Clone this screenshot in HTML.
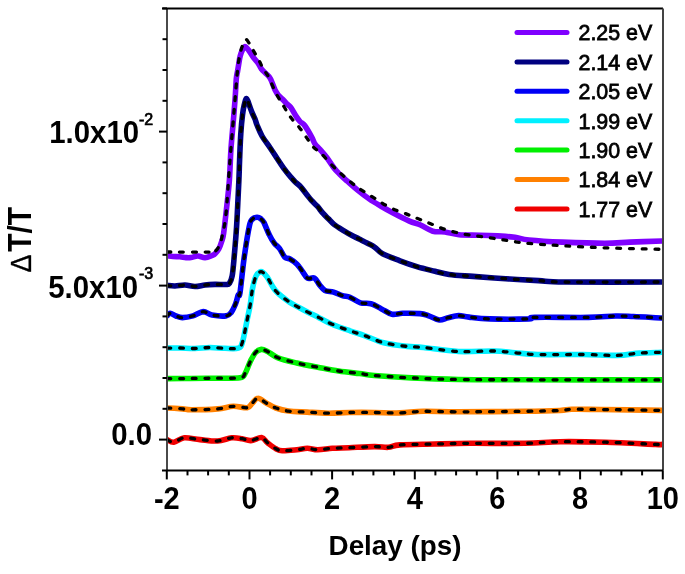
<!DOCTYPE html>
<html><head><meta charset="utf-8"><style>
html,body{margin:0;padding:0;background:#fff;}
body{width:685px;height:574px;overflow:hidden;font-family:"Liberation Sans",sans-serif;}
svg{display:block;filter:blur(0.45px);}
</style></head><body>
<svg width="685" height="574" viewBox="0 0 685 574">
<defs><clipPath id="c"><rect x="167" y="8.4" width="496" height="462.0"/></clipPath></defs>
<g clip-path="url(#c)" fill="none" stroke-linejoin="round" stroke-linecap="round">
<path d="M167.0,439.6 C168.1,440.0 170.9,442.5 173.8,442.2 C176.7,441.9 179.9,438.2 184.3,437.8 C188.7,437.4 194.4,439.1 200.0,439.6 C205.6,440.1 212.3,441.3 217.6,441.0 C222.9,440.7 227.5,438.2 231.6,437.8 C235.7,437.4 238.9,438.2 242.1,438.7 C245.3,439.2 247.6,440.8 250.8,440.6 C254.1,440.4 258.8,437.2 261.6,437.6 C264.4,438.0 265.1,441.0 267.5,442.8 C269.9,444.6 273.4,447.4 275.9,448.7 C278.3,450.0 278.7,450.6 282.2,450.8 C285.7,451.0 292.6,450.2 296.8,449.8 C301.0,449.4 303.8,448.3 307.3,448.3 C310.8,448.3 313.5,449.8 317.7,449.8 C321.9,449.8 327.2,448.7 332.4,448.3 C337.6,447.9 342.1,448.0 349.1,447.7 C356.1,447.4 367.6,446.7 374.2,446.6 C380.8,446.5 384.1,447.6 388.4,447.3 C392.7,447.0 392.2,445.4 400.0,444.9 C407.8,444.3 423.3,444.3 435.0,444.0 C446.7,443.7 455.1,443.4 470.1,443.3 C485.1,443.2 510.0,443.6 525.0,443.3 C540.0,443.0 546.9,441.9 560.3,441.7 C573.7,441.5 589.7,441.8 605.6,442.2 C621.5,442.6 646.1,444.0 655.5,444.4 C664.9,444.8 660.9,444.4 662.0,444.4" stroke="#f00000" stroke-width="5.6"/>
<path d="M167.0,408.0 C169.6,408.1 178.4,408.6 182.5,408.9 C186.6,409.2 185.5,409.8 191.3,409.8 C197.2,409.8 210.6,409.5 217.6,408.9 C224.6,408.3 228.4,406.5 233.3,406.3 C238.2,406.1 244.2,408.2 247.3,407.7 C250.4,407.2 250.2,405.1 252.0,403.5 C253.8,401.9 255.5,398.2 257.9,398.2 C260.3,398.1 263.6,401.6 266.6,403.2 C269.6,404.8 272.2,406.7 275.9,408.0 C279.5,409.3 283.3,410.4 288.5,411.1 C293.7,411.8 300.7,411.8 307.3,412.1 C313.9,412.5 321.2,413.1 328.2,413.2 C335.2,413.3 341.4,412.6 349.1,412.5 C356.8,412.4 365.7,412.4 374.2,412.5 C382.7,412.6 391.8,413.1 400.0,412.9 C408.2,412.7 413.7,411.5 423.4,411.3 C433.1,411.1 441.5,411.8 458.4,411.8 C475.3,411.8 508.1,411.5 525.0,411.3 C541.9,411.1 552.2,410.8 560.0,410.5 C567.8,410.2 565.0,409.5 571.7,409.3 C578.4,409.1 585.0,409.3 600.0,409.5 C615.0,409.7 651.7,410.2 662.0,410.4" stroke="#ff8000" stroke-width="5.6"/>
<path d="M167.0,378.6 C170.8,378.6 182.0,378.6 190.0,378.5 C198.0,378.4 206.7,378.3 215.0,378.2 C223.3,378.1 234.9,378.6 239.9,377.8 C244.9,377.0 243.3,376.2 245.1,373.4 C246.8,370.6 248.7,364.7 250.4,361.2 C252.2,357.7 253.8,354.5 255.6,352.5 C257.4,350.5 259.3,349.6 261.3,349.4 C263.3,349.2 264.7,350.1 267.5,351.5 C270.3,352.9 273.1,355.9 278.0,357.8 C282.9,359.7 290.2,361.4 296.8,363.0 C303.4,364.6 310.7,365.9 317.7,367.2 C324.7,368.5 331.6,369.9 338.6,371.0 C345.6,372.1 353.6,372.8 359.5,373.5 C365.4,374.2 365.5,374.8 374.2,375.5 C382.9,376.2 397.7,377.2 411.7,377.9 C425.7,378.6 439.5,379.2 458.4,379.5 C477.3,379.8 491.1,379.7 525.0,379.8 C558.9,379.9 639.2,379.9 662.0,379.9" stroke="#00f000" stroke-width="5.6"/>
<path d="M167.0,348.1 C169.2,348.1 175.3,347.9 180.0,348.0 C184.7,348.1 190.0,348.6 195.0,348.5 C200.0,348.4 205.0,347.5 210.0,347.5 C215.0,347.5 220.3,348.2 225.0,348.3 C229.7,348.4 235.3,349.2 238.2,348.1 C241.1,347.1 241.1,346.5 242.5,342.0 C243.9,337.5 245.6,327.5 246.9,321.1 C248.2,314.7 249.5,309.1 250.4,303.7 C251.3,298.3 251.6,293.2 252.5,288.6 C253.4,284.0 254.8,278.8 256.0,276.0 C257.2,273.2 258.7,272.5 259.9,271.9 C261.1,271.3 261.8,271.6 263.0,272.5 C264.2,273.4 265.1,274.1 267.2,277.1 C269.3,280.1 272.0,286.7 275.5,290.7 C279.0,294.7 283.6,298.1 288.1,301.2 C292.6,304.3 297.5,306.7 302.7,309.5 C307.9,312.3 314.5,315.4 319.4,317.9 C324.3,320.3 326.9,322.0 332.0,324.2 C337.1,326.4 344.5,328.9 350.0,330.8 C355.5,332.7 359.4,333.8 365.0,335.8 C370.6,337.8 376.7,341.0 383.7,342.8 C390.7,344.6 400.4,345.6 407.0,346.4 C413.6,347.2 414.8,346.6 423.4,347.5 C432.0,348.4 446.7,350.9 458.4,351.5 C470.1,352.1 484.1,350.8 493.5,351.0 C502.9,351.2 507.6,352.1 515.0,352.7 C522.4,353.3 526.4,354.2 537.7,354.5 C549.0,354.8 569.8,354.4 583.0,354.5 C596.2,354.6 607.6,355.6 617.0,355.4 C626.4,355.2 632.1,353.6 639.6,353.1 C647.1,352.6 658.3,352.4 662.0,352.2" stroke="#00f0ff" stroke-width="5.6"/>
<path d="M167.0,315.9 C167.5,315.5 168.7,313.3 170.2,313.3 C171.7,313.3 174.0,315.3 176.0,316.0 C178.0,316.7 179.6,317.6 182.4,317.6 C185.2,317.6 189.4,316.9 192.9,315.9 C196.4,314.9 200.1,311.8 203.3,311.6 C206.5,311.5 208.2,314.3 212.0,315.0 C215.8,315.7 222.8,316.3 226.0,315.9 C229.2,315.5 229.6,314.4 231.2,312.4 C232.8,310.4 234.4,306.6 235.6,303.7 C236.8,300.8 237.5,296.8 238.2,295.0 C238.9,293.2 239.0,299.1 240.0,292.8 C241.0,286.5 242.6,268.4 244.2,257.3 C245.8,246.2 248.0,232.3 249.4,225.9 C250.8,219.5 251.2,220.4 252.5,219.0 C253.8,217.6 255.7,217.3 257.0,217.2 C258.3,217.1 259.4,217.6 260.5,218.5 C261.6,219.4 262.4,219.7 263.9,222.4 C265.3,225.1 267.4,231.1 269.2,234.6 C270.9,238.1 272.7,241.0 274.4,243.3 C276.1,245.6 277.9,246.3 279.6,248.6 C281.3,250.9 283.1,255.6 284.8,257.3 C286.5,259.0 288.0,257.9 290.0,259.0 C292.0,260.1 294.9,262.2 297.0,264.2 C299.1,266.2 300.6,268.9 302.3,271.2 C304.1,273.5 305.5,277.0 307.5,278.2 C309.5,279.4 312.5,277.0 314.5,278.2 C316.5,279.4 318.0,283.1 319.7,285.1 C321.4,287.1 322.6,289.2 324.9,290.4 C327.2,291.6 330.7,291.2 333.6,292.1 C336.5,293.0 339.6,294.7 342.3,295.6 C345.0,296.5 347.0,296.1 350.0,297.3 C353.0,298.5 357.0,301.7 360.5,302.8 C364.0,303.9 367.5,302.7 371.0,303.7 C374.5,304.7 378.0,307.1 381.5,308.9 C385.0,310.6 388.5,313.5 392.0,314.2 C395.5,314.9 397.9,313.4 402.6,313.3 C407.3,313.2 415.6,313.2 420.0,313.6 C424.4,314.0 425.6,314.8 428.8,315.9 C432.0,317.0 436.1,319.7 439.3,320.0 C442.5,320.3 444.9,318.4 448.1,317.7 C451.3,317.0 455.1,315.7 458.6,315.6 C462.1,315.5 463.9,316.6 469.1,317.1 C474.3,317.7 479.9,318.6 489.9,318.9 C499.8,319.2 521.3,319.1 528.8,318.9 C536.3,318.6 524.8,317.6 534.8,317.4 C544.8,317.1 575.2,317.6 588.7,317.4 C602.2,317.2 608.1,316.1 615.6,316.0 C623.1,315.9 625.9,316.2 633.6,316.5 C641.3,316.8 657.3,317.8 662.0,318.0" stroke="#0000f5" stroke-width="5.6"/>
<path d="M167.0,285.4 C168.3,285.5 172.0,286.1 175.0,286.0 C178.0,285.9 181.7,284.9 185.0,285.0 C188.3,285.1 191.7,286.5 195.0,286.5 C198.3,286.5 201.7,285.4 205.0,285.0 C208.3,284.6 211.5,284.5 215.0,284.4 C218.5,284.3 223.6,284.7 226.0,284.5 C228.4,284.3 228.4,284.8 229.4,283.4 C230.4,281.9 231.4,280.3 232.2,275.8 C233.0,271.3 233.5,264.6 234.2,256.6 C234.9,248.6 235.9,237.5 236.5,227.9 C237.1,218.3 237.6,207.2 238.0,199.2 C238.4,191.2 238.6,186.5 238.9,180.0 C239.2,173.5 239.3,167.7 239.6,160.0 C239.9,152.3 240.3,141.1 240.8,133.6 C241.3,126.1 241.9,119.8 242.5,115.0 C243.1,110.2 243.5,107.7 244.2,105.0 C244.9,102.3 245.6,98.5 246.5,98.6 C247.4,98.7 248.5,103.1 249.4,105.5 C250.3,107.9 251.3,110.7 252.2,112.9 C253.1,115.2 254.2,117.0 255.0,119.0 C255.8,121.0 255.8,122.2 257.0,125.0 C258.2,127.8 259.9,132.2 262.0,136.0 C264.1,139.8 267.4,143.8 269.9,147.5 C272.4,151.2 274.5,154.5 276.8,158.0 C279.1,161.5 281.5,165.2 283.8,168.4 C286.1,171.6 288.9,174.9 290.8,177.1 C292.7,179.3 293.4,180.2 295.0,181.8 C296.6,183.4 298.8,184.7 300.6,186.7 C302.5,188.7 304.2,191.4 306.1,193.7 C308.0,196.0 309.8,198.6 311.7,200.7 C313.6,202.8 315.4,204.1 317.3,206.2 C319.2,208.3 321.0,211.1 322.9,213.2 C324.8,215.3 326.5,216.9 328.4,218.8 C330.2,220.7 331.7,222.6 334.0,224.4 C336.3,226.2 339.6,228.2 342.4,229.9 C345.2,231.6 347.9,233.3 350.7,234.8 C353.5,236.3 356.3,237.6 359.1,239.0 C361.9,240.4 364.9,241.8 367.5,243.2 C370.1,244.6 372.5,245.6 375.0,247.4 C377.5,249.2 378.4,251.6 382.6,253.8 C386.8,256.0 394.2,258.6 400.0,260.8 C405.8,263.0 411.8,265.1 417.6,266.9 C423.4,268.6 429.8,270.0 435.0,271.3 C440.2,272.6 442.7,273.6 449.0,274.5 C455.3,275.4 463.4,275.7 472.9,276.4 C482.3,277.1 494.8,278.0 505.7,278.7 C516.6,279.4 528.8,280.1 538.6,280.6 C548.5,281.2 544.2,281.8 564.8,282.0 C585.4,282.2 645.8,282.0 662.0,282.0" stroke="#000080" stroke-width="5.6"/>
<path d="M167.0,255.7 C168.0,255.8 170.8,256.3 173.0,256.5 C175.2,256.7 177.8,256.6 180.0,256.8 C182.2,257.0 184.2,257.5 186.0,257.6 C187.8,257.7 189.0,257.8 191.0,257.5 C193.0,257.2 195.7,255.9 198.0,256.0 C200.3,256.1 202.7,257.9 205.0,257.8 C207.3,257.7 210.3,256.2 212.0,255.5 C213.7,254.8 213.9,254.9 215.0,253.8 C216.1,252.7 217.7,251.0 218.8,249.0 C219.9,247.0 220.7,244.6 221.5,242.0 C222.3,239.4 222.8,239.2 223.6,233.6 C224.4,228.0 225.5,217.6 226.5,208.7 C227.5,199.8 228.7,189.8 229.4,180.0 C230.1,170.2 230.3,159.2 230.9,150.0 C231.5,140.8 232.3,133.3 233.0,125.0 C233.7,116.7 234.4,107.7 235.0,100.0 C235.6,92.3 235.9,83.6 236.3,78.8 C236.7,74.0 237.2,73.6 237.6,71.0 C238.0,68.4 238.5,65.6 238.9,63.1 C239.3,60.6 239.6,58.3 240.2,56.1 C240.8,53.9 241.6,51.6 242.4,50.0 C243.2,48.4 244.0,46.5 245.0,46.5 C246.0,46.5 247.1,48.1 248.5,50.0 C249.9,51.9 252.1,55.7 253.7,57.9 C255.3,60.1 256.8,61.2 258.1,63.1 C259.4,65.0 260.3,67.5 261.6,69.2 C262.9,71.0 264.6,72.0 266.0,73.6 C267.4,75.1 268.8,75.8 270.3,78.5 C271.8,81.2 273.8,87.2 275.1,90.0 C276.5,92.8 276.9,93.5 278.4,95.3 C279.8,97.0 282.4,99.0 283.8,100.5 C285.2,102.0 285.8,102.8 287.0,104.0 C288.2,105.2 289.3,105.4 290.8,107.4 C292.3,109.4 294.5,113.8 296.0,116.1 C297.5,118.4 298.6,119.9 300.0,121.5 C301.4,123.1 302.8,122.9 304.7,125.5 C306.6,128.1 310.0,134.0 311.7,137.1 C313.4,140.2 313.6,141.9 315.0,144.0 C316.4,146.1 318.2,147.4 320.2,149.7 C322.2,152.0 324.8,154.9 327.1,158.0 C329.4,161.1 331.9,165.2 334.0,168.0 C336.1,170.8 337.9,172.4 340.0,174.5 C342.1,176.6 343.7,178.0 346.7,180.7 C349.7,183.3 354.2,187.4 357.9,190.4 C361.6,193.4 365.3,196.2 369.0,198.8 C372.7,201.4 376.2,203.4 380.2,205.7 C384.1,208.0 387.8,210.1 392.7,212.7 C397.6,215.3 404.8,219.0 409.4,221.1 C414.0,223.2 416.6,223.3 420.5,225.0 C424.4,226.7 428.7,230.0 432.8,231.2 C436.9,232.4 440.6,231.4 445.0,232.0 C449.4,232.6 453.2,234.2 459.0,234.7 C464.8,235.2 473.6,235.0 480.0,235.2 C486.4,235.4 491.8,235.6 497.6,235.9 C503.4,236.2 509.8,236.6 515.0,237.3 C520.2,238.0 521.1,239.2 529.0,240.0 C536.9,240.8 549.7,241.6 562.3,242.1 C574.9,242.6 593.4,243.2 604.7,243.2 C616.0,243.2 620.5,242.5 630.0,242.1 C639.5,241.7 656.7,241.2 662.0,241.0" stroke="#7f00ff" stroke-width="5.6"/>
<path d="M167.0,439.6 C168.1,440.0 170.9,442.5 173.8,442.2 C176.7,441.9 179.9,438.2 184.3,437.8 C188.7,437.4 194.4,439.1 200.0,439.6 C205.6,440.1 212.3,441.3 217.6,441.0 C222.9,440.7 227.5,438.2 231.6,437.8 C235.7,437.4 238.9,438.2 242.1,438.7 C245.3,439.2 247.6,440.8 250.8,440.6 C254.1,440.4 258.8,437.2 261.6,437.6 C264.4,438.0 265.1,441.0 267.5,442.8 C269.9,444.6 273.4,447.4 275.9,448.7 C278.3,450.0 278.7,450.6 282.2,450.8 C285.7,451.0 292.6,450.2 296.8,449.8 C301.0,449.4 303.8,448.3 307.3,448.3 C310.8,448.3 313.5,449.8 317.7,449.8 C321.9,449.8 327.2,448.7 332.4,448.3 C337.6,447.9 342.1,448.0 349.1,447.7 C356.1,447.4 367.6,446.7 374.2,446.6 C380.8,446.5 384.1,447.6 388.4,447.3 C392.7,447.0 392.2,445.4 400.0,444.9 C407.8,444.3 423.3,444.3 435.0,444.0 C446.7,443.7 455.1,443.4 470.1,443.3 C485.1,443.2 510.0,443.6 525.0,443.3 C540.0,443.0 546.9,441.9 560.3,441.7 C573.7,441.5 589.7,441.8 605.6,442.2 C621.5,442.6 646.1,444.0 655.5,444.4 C664.9,444.8 660.9,444.4 662.0,444.4" stroke="#000" stroke-width="3.3" stroke-dasharray="3.8 8.9" stroke-linecap="round"/>
<path d="M167.0,408.0 C169.6,408.1 178.4,408.6 182.5,408.9 C186.6,409.2 185.5,409.8 191.3,409.8 C197.2,409.8 210.6,409.5 217.6,408.9 C224.6,408.3 228.4,406.5 233.3,406.3 C238.2,406.1 244.2,408.2 247.3,407.7 C250.4,407.2 250.2,405.1 252.0,403.5 C253.8,401.9 255.5,398.2 257.9,398.2 C260.3,398.1 263.6,401.6 266.6,403.2 C269.6,404.8 272.2,406.7 275.9,408.0 C279.5,409.3 283.3,410.4 288.5,411.1 C293.7,411.8 300.7,411.8 307.3,412.1 C313.9,412.5 321.2,413.1 328.2,413.2 C335.2,413.3 341.4,412.6 349.1,412.5 C356.8,412.4 365.7,412.4 374.2,412.5 C382.7,412.6 391.8,413.1 400.0,412.9 C408.2,412.7 413.7,411.5 423.4,411.3 C433.1,411.1 441.5,411.8 458.4,411.8 C475.3,411.8 508.1,411.5 525.0,411.3 C541.9,411.1 552.2,410.8 560.0,410.5 C567.8,410.2 565.0,409.5 571.7,409.3 C578.4,409.1 585.0,409.3 600.0,409.5 C615.0,409.7 651.7,410.2 662.0,410.4" stroke="#000" stroke-width="3.3" stroke-dasharray="3.8 8.9" stroke-linecap="round"/>
<path d="M167.0,378.6 C170.8,378.6 182.0,378.6 190.0,378.5 C198.0,378.4 206.7,378.3 215.0,378.2 C223.3,378.1 234.9,378.6 239.9,377.8 C244.9,377.0 243.3,376.2 245.1,373.4 C246.8,370.6 248.7,364.7 250.4,361.2 C252.2,357.7 253.8,354.5 255.6,352.5 C257.4,350.5 259.3,349.6 261.3,349.4 C263.3,349.2 264.7,350.1 267.5,351.5 C270.3,352.9 273.1,355.9 278.0,357.8 C282.9,359.7 290.2,361.4 296.8,363.0 C303.4,364.6 310.7,365.9 317.7,367.2 C324.7,368.5 331.6,369.9 338.6,371.0 C345.6,372.1 353.6,372.8 359.5,373.5 C365.4,374.2 365.5,374.8 374.2,375.5 C382.9,376.2 397.7,377.2 411.7,377.9 C425.7,378.6 439.5,379.2 458.4,379.5 C477.3,379.8 491.1,379.7 525.0,379.8 C558.9,379.9 639.2,379.9 662.0,379.9" stroke="#000" stroke-width="3.3" stroke-dasharray="3.8 8.9" stroke-linecap="round"/>
<path d="M167.0,348.1 C169.2,348.1 175.3,347.9 180.0,348.0 C184.7,348.1 190.0,348.6 195.0,348.5 C200.0,348.4 205.0,347.5 210.0,347.5 C215.0,347.5 220.3,348.2 225.0,348.3 C229.7,348.4 235.3,349.2 238.2,348.1 C241.1,347.1 241.1,346.5 242.5,342.0 C243.9,337.5 245.6,327.5 246.9,321.1 C248.2,314.7 249.5,309.1 250.4,303.7 C251.3,298.3 251.6,293.2 252.5,288.6 C253.4,284.0 254.8,278.8 256.0,276.0 C257.2,273.2 258.7,272.5 259.9,271.9 C261.1,271.3 261.8,271.6 263.0,272.5 C264.2,273.4 265.1,274.1 267.2,277.1 C269.3,280.1 272.0,286.7 275.5,290.7 C279.0,294.7 283.6,298.1 288.1,301.2 C292.6,304.3 297.5,306.7 302.7,309.5 C307.9,312.3 314.5,315.4 319.4,317.9 C324.3,320.3 326.9,322.0 332.0,324.2 C337.1,326.4 344.5,328.9 350.0,330.8 C355.5,332.7 359.4,333.8 365.0,335.8 C370.6,337.8 376.7,341.0 383.7,342.8 C390.7,344.6 400.4,345.6 407.0,346.4 C413.6,347.2 414.8,346.6 423.4,347.5 C432.0,348.4 446.7,350.9 458.4,351.5 C470.1,352.1 484.1,350.8 493.5,351.0 C502.9,351.2 507.6,352.1 515.0,352.7 C522.4,353.3 526.4,354.2 537.7,354.5 C549.0,354.8 569.8,354.4 583.0,354.5 C596.2,354.6 607.6,355.6 617.0,355.4 C626.4,355.2 632.1,353.6 639.6,353.1 C647.1,352.6 658.3,352.4 662.0,352.2" stroke="#000" stroke-width="3.3" stroke-dasharray="3.8 8.9" stroke-linecap="round"/>
<path d="M167.0,315.9 C167.5,315.5 168.7,313.3 170.2,313.3 C171.7,313.3 174.0,315.3 176.0,316.0 C178.0,316.7 179.6,317.6 182.4,317.6 C185.2,317.6 189.4,316.9 192.9,315.9 C196.4,314.9 200.1,311.8 203.3,311.6 C206.5,311.5 208.2,314.3 212.0,315.0 C215.8,315.7 222.8,316.3 226.0,315.9 C229.2,315.5 229.6,314.4 231.2,312.4 C232.8,310.4 234.4,306.6 235.6,303.7 C236.8,300.8 237.5,296.8 238.2,295.0 C238.9,293.2 239.0,299.1 240.0,292.8 C241.0,286.5 242.6,268.4 244.2,257.3 C245.8,246.2 248.0,232.3 249.4,225.9 C250.8,219.5 251.2,220.4 252.5,219.0 C253.8,217.6 255.7,217.3 257.0,217.2 C258.3,217.1 259.4,217.6 260.5,218.5 C261.6,219.4 262.4,219.7 263.9,222.4 C265.3,225.1 267.4,231.1 269.2,234.6 C270.9,238.1 272.7,241.0 274.4,243.3 C276.1,245.6 277.9,246.3 279.6,248.6 C281.3,250.9 283.1,255.6 284.8,257.3 C286.5,259.0 288.0,257.9 290.0,259.0 C292.0,260.1 294.9,262.2 297.0,264.2 C299.1,266.2 300.6,268.9 302.3,271.2 C304.1,273.5 305.5,277.0 307.5,278.2 C309.5,279.4 312.5,277.0 314.5,278.2 C316.5,279.4 318.0,283.1 319.7,285.1 C321.4,287.1 322.6,289.2 324.9,290.4 C327.2,291.6 330.7,291.2 333.6,292.1 C336.5,293.0 339.6,294.7 342.3,295.6 C345.0,296.5 347.0,296.1 350.0,297.3 C353.0,298.5 357.0,301.7 360.5,302.8 C364.0,303.9 367.5,302.7 371.0,303.7 C374.5,304.7 378.0,307.1 381.5,308.9 C385.0,310.6 388.5,313.5 392.0,314.2 C395.5,314.9 397.9,313.4 402.6,313.3 C407.3,313.2 415.6,313.2 420.0,313.6 C424.4,314.0 425.6,314.8 428.8,315.9 C432.0,317.0 436.1,319.7 439.3,320.0 C442.5,320.3 444.9,318.4 448.1,317.7 C451.3,317.0 455.1,315.7 458.6,315.6 C462.1,315.5 463.9,316.6 469.1,317.1 C474.3,317.7 479.9,318.6 489.9,318.9 C499.8,319.2 521.3,319.1 528.8,318.9 C536.3,318.6 524.8,317.6 534.8,317.4 C544.8,317.1 575.2,317.6 588.7,317.4 C602.2,317.2 608.1,316.1 615.6,316.0 C623.1,315.9 625.9,316.2 633.6,316.5 C641.3,316.8 657.3,317.8 662.0,318.0" stroke="#000" stroke-width="3.3" stroke-dasharray="3.8 8.9" stroke-linecap="round"/>
<path d="M167.0,285.4 C168.3,285.5 172.0,286.1 175.0,286.0 C178.0,285.9 181.7,284.9 185.0,285.0 C188.3,285.1 191.7,286.5 195.0,286.5 C198.3,286.5 201.7,285.4 205.0,285.0 C208.3,284.6 211.5,284.5 215.0,284.4 C218.5,284.3 223.6,284.7 226.0,284.5 C228.4,284.3 228.4,284.8 229.4,283.4 C230.4,281.9 231.4,280.3 232.2,275.8 C233.0,271.3 233.5,264.6 234.2,256.6 C234.9,248.6 235.9,237.5 236.5,227.9 C237.1,218.3 237.6,207.2 238.0,199.2 C238.4,191.2 238.6,186.5 238.9,180.0 C239.2,173.5 239.3,167.7 239.6,160.0 C239.9,152.3 240.3,141.1 240.8,133.6 C241.3,126.1 241.9,119.8 242.5,115.0 C243.1,110.2 243.5,107.7 244.2,105.0 C244.9,102.3 245.6,98.5 246.5,98.6 C247.4,98.7 248.5,103.1 249.4,105.5 C250.3,107.9 251.3,110.7 252.2,112.9 C253.1,115.2 254.2,117.0 255.0,119.0 C255.8,121.0 255.8,122.2 257.0,125.0 C258.2,127.8 259.9,132.2 262.0,136.0 C264.1,139.8 267.4,143.8 269.9,147.5 C272.4,151.2 274.5,154.5 276.8,158.0 C279.1,161.5 281.5,165.2 283.8,168.4 C286.1,171.6 288.9,174.9 290.8,177.1 C292.7,179.3 293.4,180.2 295.0,181.8 C296.6,183.4 298.8,184.7 300.6,186.7 C302.5,188.7 304.2,191.4 306.1,193.7 C308.0,196.0 309.8,198.6 311.7,200.7 C313.6,202.8 315.4,204.1 317.3,206.2 C319.2,208.3 321.0,211.1 322.9,213.2 C324.8,215.3 326.5,216.9 328.4,218.8 C330.2,220.7 331.7,222.6 334.0,224.4 C336.3,226.2 339.6,228.2 342.4,229.9 C345.2,231.6 347.9,233.3 350.7,234.8 C353.5,236.3 356.3,237.6 359.1,239.0 C361.9,240.4 364.9,241.8 367.5,243.2 C370.1,244.6 372.5,245.6 375.0,247.4 C377.5,249.2 378.4,251.6 382.6,253.8 C386.8,256.0 394.2,258.6 400.0,260.8 C405.8,263.0 411.8,265.1 417.6,266.9 C423.4,268.6 429.8,270.0 435.0,271.3 C440.2,272.6 442.7,273.6 449.0,274.5 C455.3,275.4 463.4,275.7 472.9,276.4 C482.3,277.1 494.8,278.0 505.7,278.7 C516.6,279.4 528.8,280.1 538.6,280.6 C548.5,281.2 544.2,281.8 564.8,282.0 C585.4,282.2 645.8,282.0 662.0,282.0" stroke="#000" stroke-width="3.3" stroke-dasharray="3.8 8.9" stroke-linecap="round"/>
<path d="M167.0,252.0 C174.5,252.0 203.8,252.2 212.0,252.0 C220.2,251.8 214.7,251.8 216.0,250.5 C217.3,249.2 218.8,247.1 220.0,244.0 C221.2,240.9 222.0,237.0 223.0,232.0 C224.0,227.0 224.8,226.0 226.0,214.0 C227.2,202.0 228.5,179.0 230.0,160.0 C231.5,141.0 233.7,115.7 235.0,100.0 C236.3,84.3 237.0,74.3 238.0,66.0 C239.0,57.7 240.1,53.7 241.0,50.0 C241.9,46.3 242.7,45.8 243.5,44.0 C244.3,42.2 245.1,39.7 246.0,39.5 C246.9,39.3 248.0,41.5 249.0,43.0 C250.0,44.5 250.3,45.4 252.0,48.3 C253.7,51.2 257.1,57.0 259.0,60.5 C260.9,64.0 261.7,66.2 263.3,69.0 C264.9,71.8 266.6,73.1 268.6,77.0 C270.7,80.9 273.1,87.6 275.6,92.5 C278.2,97.4 281.3,102.3 283.9,106.5 C286.4,110.7 288.3,114.1 290.9,117.6 C293.5,121.1 296.8,124.2 299.3,127.4 C301.9,130.7 303.9,133.8 306.2,137.1 C308.5,140.3 310.6,144.1 313.2,146.9 C315.8,149.7 318.3,150.7 321.6,153.9 C324.9,157.1 329.3,162.5 332.8,166.0 C336.3,169.5 339.2,172.2 342.5,175.1 C345.8,178.0 349.1,180.8 352.3,183.4 C355.6,186.0 358.5,188.1 362.0,190.4 C365.5,192.7 369.7,195.2 373.2,197.4 C376.7,199.6 379.3,201.6 383.0,203.7 C386.7,205.8 391.6,208.3 395.5,210.0 C399.4,211.7 404.0,213.0 406.7,214.1 C409.4,215.2 408.3,214.9 411.8,216.3 C415.3,217.7 422.0,220.2 427.5,222.4 C433.0,224.6 439.1,227.5 445.0,229.4 C450.9,231.3 456.8,232.6 462.6,233.8 C468.4,235.0 474.2,235.5 480.0,236.4 C485.8,237.3 491.8,238.1 497.6,239.0 C503.4,239.9 509.8,241.0 515.0,241.7 C520.2,242.4 521.2,242.7 529.0,243.4 C536.8,244.1 549.4,245.0 562.0,245.7 C574.6,246.4 588.0,247.2 604.7,247.8 C621.4,248.4 652.5,249.1 662.0,249.3" stroke="#000" stroke-width="3.3" stroke-dasharray="3.8 8.9" stroke-linecap="round"/>
</g>
<g stroke="#000" fill="none">
<line x1="167" y1="8.4" x2="167" y2="470.4" stroke-width="2" stroke="#4a4a4a"/>
<line x1="162" y1="8.4" x2="663" y2="8.4" stroke-width="2"/>
<line x1="663" y1="8.4" x2="663" y2="470.4" stroke-width="2" stroke="#444"/>
<line x1="162" y1="470.4" x2="663" y2="470.4" stroke-width="2"/>
<line x1="166.8" y1="470.4" x2="166.8" y2="479.4" stroke-width="2"/>
<line x1="187.5" y1="470.4" x2="187.5" y2="475.4" stroke-width="2"/>
<line x1="208.1" y1="470.4" x2="208.1" y2="475.4" stroke-width="2"/>
<line x1="228.8" y1="470.4" x2="228.8" y2="475.4" stroke-width="2"/>
<line x1="249.5" y1="470.4" x2="249.5" y2="479.4" stroke-width="2"/>
<line x1="270.1" y1="470.4" x2="270.1" y2="475.4" stroke-width="2"/>
<line x1="290.8" y1="470.4" x2="290.8" y2="475.4" stroke-width="2"/>
<line x1="311.5" y1="470.4" x2="311.5" y2="475.4" stroke-width="2"/>
<line x1="332.1" y1="470.4" x2="332.1" y2="479.4" stroke-width="2"/>
<line x1="352.8" y1="470.4" x2="352.8" y2="475.4" stroke-width="2"/>
<line x1="373.4" y1="470.4" x2="373.4" y2="475.4" stroke-width="2"/>
<line x1="394.1" y1="470.4" x2="394.1" y2="475.4" stroke-width="2"/>
<line x1="414.8" y1="470.4" x2="414.8" y2="479.4" stroke-width="2"/>
<line x1="435.4" y1="470.4" x2="435.4" y2="475.4" stroke-width="2"/>
<line x1="456.1" y1="470.4" x2="456.1" y2="475.4" stroke-width="2"/>
<line x1="476.8" y1="470.4" x2="476.8" y2="475.4" stroke-width="2"/>
<line x1="497.4" y1="470.4" x2="497.4" y2="479.4" stroke-width="2"/>
<line x1="518.1" y1="470.4" x2="518.1" y2="475.4" stroke-width="2"/>
<line x1="538.8" y1="470.4" x2="538.8" y2="475.4" stroke-width="2"/>
<line x1="559.4" y1="470.4" x2="559.4" y2="475.4" stroke-width="2"/>
<line x1="580.1" y1="470.4" x2="580.1" y2="479.4" stroke-width="2"/>
<line x1="600.8" y1="470.4" x2="600.8" y2="475.4" stroke-width="2"/>
<line x1="621.4" y1="470.4" x2="621.4" y2="475.4" stroke-width="2"/>
<line x1="642.1" y1="470.4" x2="642.1" y2="475.4" stroke-width="2"/>
<line x1="662.8" y1="470.4" x2="662.8" y2="479.4" stroke-width="2"/>
<line x1="159.0" y1="439.6" x2="167.0" y2="439.6" stroke-width="2"/>
<line x1="162.5" y1="408.8" x2="167.0" y2="408.8" stroke-width="2"/>
<line x1="162.5" y1="378.0" x2="167.0" y2="378.0" stroke-width="2"/>
<line x1="162.5" y1="347.2" x2="167.0" y2="347.2" stroke-width="2"/>
<line x1="162.5" y1="316.4" x2="167.0" y2="316.4" stroke-width="2"/>
<line x1="159.0" y1="285.6" x2="167.0" y2="285.6" stroke-width="2"/>
<line x1="162.5" y1="254.8" x2="167.0" y2="254.8" stroke-width="2"/>
<line x1="162.5" y1="224.0" x2="167.0" y2="224.0" stroke-width="2"/>
<line x1="162.5" y1="193.2" x2="167.0" y2="193.2" stroke-width="2"/>
<line x1="162.5" y1="162.4" x2="167.0" y2="162.4" stroke-width="2"/>
<line x1="159.0" y1="131.6" x2="167.0" y2="131.6" stroke-width="2"/>
<line x1="162.5" y1="100.8" x2="167.0" y2="100.8" stroke-width="2"/>
<line x1="162.5" y1="70.0" x2="167.0" y2="70.0" stroke-width="2"/>
<line x1="162.5" y1="39.2" x2="167.0" y2="39.2" stroke-width="2"/>
<line x1="162.5" y1="8.4" x2="167.0" y2="8.4" stroke-width="2"/>
</g>
<g font-family="Liberation Sans" font-weight="bold" font-size="29" fill="#000" text-anchor="middle">
<text transform="translate(166.8,508.6) scale(1,1.090)">-2</text>
<text transform="translate(249.5,508.6) scale(1,1.090)">0</text>
<text transform="translate(332.1,508.6) scale(1,1.090)">2</text>
<text transform="translate(414.8,508.6) scale(1,1.090)">4</text>
<text transform="translate(497.4,508.6) scale(1,1.090)">6</text>
<text transform="translate(580.1,508.6) scale(1,1.090)">8</text>
<text transform="translate(662.8,508.6) scale(1,1.090)">10</text>
</g>
<g font-family="Liberation Sans" font-weight="bold" fill="#000">
<text transform="translate(49.2,142.8) scale(1,1.070)" font-size="29.4">1.0x10</text>
<text transform="translate(138.9,125.4) scale(1,1.0)" font-size="16" font-weight="normal" stroke="#000" stroke-width="0.7">-2</text>
<text transform="translate(48.2,297.8) scale(1,1.070)" font-size="29.4">5.0x10</text>
<text transform="translate(138.9,279.2) scale(1,1.0)" font-size="16" font-weight="normal" stroke="#000" stroke-width="0.7">-3</text>
<text transform="translate(152,445.0) scale(1,1.070)" font-size="29.4" text-anchor="end">0.0</text>
<text x="395" y="554.6" font-size="27.8" text-anchor="middle">Delay (ps)</text>
<text transform="translate(30.8,272.6) rotate(-90) scale(1,1.08)" font-size="27" font-weight="normal" stroke="#000" stroke-width="0.3">&#916;</text>
<text transform="translate(30.8,251.8) rotate(-90) scale(1.0,1.12)" font-size="30">T/T</text>
</g>
<g font-family="Liberation Sans" font-size="21.4" fill="#000" stroke="#000" stroke-width="0.75">
<line x1="517" y1="32.5" x2="567" y2="32.5" stroke="#7f00ff" stroke-width="5" stroke-linecap="round"/>
<text transform="translate(578.5,40.3) scale(1,1.04)">2.25 eV</text>
<line x1="517" y1="61.9" x2="567" y2="61.9" stroke="#000080" stroke-width="5" stroke-linecap="round"/>
<text transform="translate(578.5,69.7) scale(1,1.04)">2.14 eV</text>
<line x1="517" y1="91.3" x2="567" y2="91.3" stroke="#0000f5" stroke-width="5" stroke-linecap="round"/>
<text transform="translate(578.5,99.1) scale(1,1.04)">2.05 eV</text>
<line x1="517" y1="120.7" x2="567" y2="120.7" stroke="#00f0ff" stroke-width="5" stroke-linecap="round"/>
<text transform="translate(578.5,128.5) scale(1,1.04)">1.99 eV</text>
<line x1="517" y1="150.1" x2="567" y2="150.1" stroke="#00f000" stroke-width="5" stroke-linecap="round"/>
<text transform="translate(578.5,157.9) scale(1,1.04)">1.90 eV</text>
<line x1="517" y1="179.5" x2="567" y2="179.5" stroke="#ff8000" stroke-width="5" stroke-linecap="round"/>
<text transform="translate(578.5,187.3) scale(1,1.04)">1.84 eV</text>
<line x1="517" y1="208.9" x2="567" y2="208.9" stroke="#f00000" stroke-width="5" stroke-linecap="round"/>
<text transform="translate(578.5,216.7) scale(1,1.04)">1.77 eV</text>
</g>
</svg>
</body></html>
